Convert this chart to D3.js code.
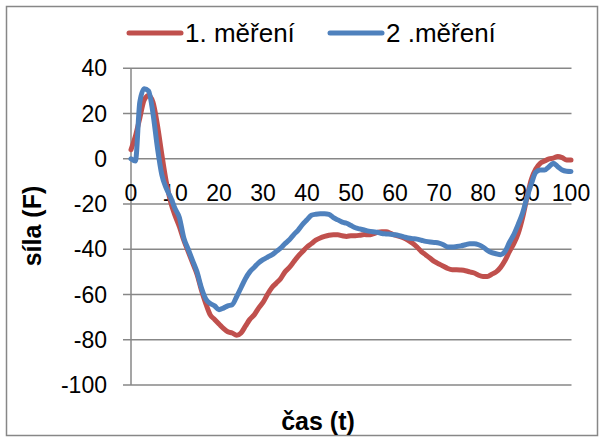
<!DOCTYPE html>
<html>
<head>
<meta charset="utf-8">
<script src="https://cdn.jsdelivr.net/npm/d3@7.9.0/dist/d3.min.js"></script>
<style>
  body { margin: 0; background: #fff; }
  svg { display: block; font-family: 'Liberation Sans', Arial, sans-serif; }
</style>
</head>
<body>
<svg id="chart" width="600" height="438"></svg>
<script>
// measurement data (time 0..100)
const seriesNames = ['1. měření', '2 .měření'];
const seriesColors = ['#C0504D', '#4F81BD'];

const mereni1 = [
  4, 10, 18, 26, 28, 25, 15, 2, -10, -19,
  -25, -30, -36, -41, -46, -51, -58, -64, -69, -71,
  -73, -75, -76.5, -77, -78, -77, -74, -71, -69, -66,
  -63.5, -60, -57, -55, -53, -50, -48, -45.5, -43, -41,
  -39, -37.5, -36, -35, -34.3, -33.8, -33.6, -33.6, -34, -34.3,
  -34, -34, -33.8, -33.5, -33.6, -33.2, -32.5, -32.2, -32.2, -33,
  -33.8, -34.3, -35, -36, -37.3, -39, -41, -42.5, -44, -45.5,
  -46.5, -47.5, -48.5, -49, -49, -49.2, -49.5, -50, -50.5, -51.5,
  -52, -52, -51, -50, -48, -45, -41, -37.5, -33, -26,
  -17, -9, -4.5, -2, -1, 0, 0.3, 1, 0.5, -0.5,
  -0.5
];

const mereni2 = [
  0, -1, 25, 31, 30, 20, 5, -7, -13, -17,
  -22, -26, -35, -40, -45, -50, -57, -62, -64, -65,
  -66.7, -66, -65, -64.5, -61, -57, -53, -50, -48, -46,
  -44.6, -43.5, -42.5, -41, -39.5, -37.5, -35.8, -33.5, -31.5, -29,
  -27, -25, -24.5, -24.3, -24.3, -24.6, -26, -27, -28, -28.5,
  -29.5, -30.5, -31, -31.5, -32, -32.3, -32.5, -33, -33.2, -33.4,
  -33.6, -34, -34.5, -35, -35.3, -35.5, -36, -36.5, -36.8, -37,
  -37.3, -38, -39, -39, -38.8, -38.5, -38, -37.6, -37.6, -38,
  -39, -40.5, -41.5, -42, -42.4, -41, -37, -33.5, -29, -24,
  -17, -11, -6, -5, -5, -3.5, -2, -3.5, -5, -5.5,
  -5.6
];

const xTicks = [0, 10, 20, 30, 40, 50, 60, 70, 80, 90, 100];
const yTicks = [40, 20, 0, -20, -40, -60, -80, -100];

const svg = d3.select('#chart');
const gray = '#878787';

// outer border
svg.append('rect')
  .attr('x', 6.5).attr('y', 6.5)
  .attr('width', 591).attr('height', 429)
  .attr('fill', '#fff').attr('stroke', gray).attr('stroke-width', 1.5);

const x = d3.scaleLinear().domain([0, 100]).range([131, 571]);
const y = d3.scaleLinear().domain([-100, 40]).range([385, 68.3]);

// horizontal gridlines
svg.append('g').selectAll('line')
  .data(yTicks)
  .join('line')
  .attr('x1', 123).attr('x2', 571.5)
  .attr('y1', (d) => y(d)).attr('y2', (d) => y(d))
  .attr('stroke', gray).attr('stroke-width', 1.5);

// vertical axis line
svg.append('line')
  .attr('x1', x(0)).attr('x2', x(0))
  .attr('y1', y(40)).attr('y2', y(-100))
  .attr('stroke', gray).attr('stroke-width', 1.5);

// y tick labels
svg.append('g').selectAll('text')
  .data(yTicks)
  .join('text')
  .attr('x', 107)
  .attr('y', (d) => y(d))
  .attr('dy', '0.35em')
  .attr('text-anchor', 'end')
  .attr('font-size', 23)
  .text((d) => d);

// x tick labels (sit just below the zero line)
svg.append('g').selectAll('text')
  .data(xTicks)
  .join('text')
  .attr('x', (d) => x(d))
  .attr('y', 201)
  .attr('text-anchor', 'middle')
  .attr('font-size', 23)
  .text((d) => d);

// lines
const line = d3.line()
  .x((d, i) => x(i))
  .y((d) => y(d))
  .curve(d3.curveMonotoneX);

[mereni1, mereni2].forEach((values, i) => {
  svg.append('path')
    .datum(values)
    .attr('d', line)
    .attr('fill', 'none')
    .attr('stroke', seriesColors[i])
    .attr('stroke-width', 5)
    .attr('stroke-linejoin', 'round')
    .attr('stroke-linecap', 'round');
});

// axis titles
svg.append('text')
  .attr('x', 318).attr('y', 430)
  .attr('text-anchor', 'middle')
  .attr('font-size', 25).attr('font-weight', 'bold')
  .text('čas (t)');

svg.append('text')
  .attr('transform', 'translate(41,226) rotate(-90)')
  .attr('text-anchor', 'middle')
  .attr('font-size', 25).attr('font-weight', 'bold')
  .text('síla (F)');

// legend
const legendX = [127, 328];
const legend = svg.append('g');
seriesNames.forEach((name, i) => {
  legend.append('line')
    .attr('x1', legendX[i] + 2).attr('x2', legendX[i] + 54)
    .attr('y1', 33).attr('y2', 33)
    .attr('stroke', seriesColors[i])
    .attr('stroke-width', 5)
    .attr('stroke-linecap', 'round');
  legend.append('text')
    .attr('x', legendX[i] + 58).attr('y', 42)
    .attr('font-size', 26)
    .text(name);
});
</script>
</body>
</html>
